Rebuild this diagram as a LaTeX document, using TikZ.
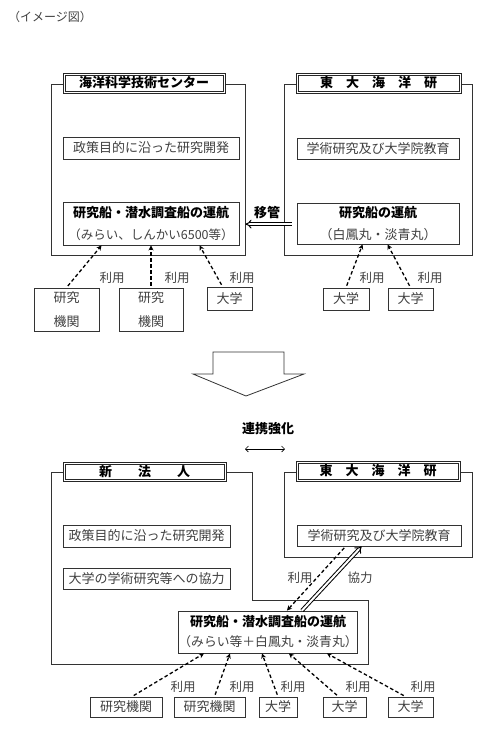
\documentclass[tikz,border=0pt]{standalone}
\usepackage{fontspec}
\setmainfont{Noto Sans CJK JP}
\usetikzlibrary{arrows.meta,calc}
\begin{document}
\begin{tikzpicture}[x=1pt,y=-1pt,
  every node/.style={font=\fontsize{13}{15}\selectfont},
  frame/.style={draw=black!80, line width=0.9pt, inner sep=0pt},
  box/.style={draw=black!80, line width=0.9pt, fill=white, inner sep=0pt, align=center, text=black!75},
  opbox/.style={box, font=\fontsize{13}{22}\selectfont},
  twoline/.style={box, font=\fontsize{13}{24}\selectfont},
  titlebox/.style={draw=black!85, line width=0.7pt, fill=white, inner sep=0pt, font=\fontsize{13}{15}\selectfont\bfseries, text=black},
  inner/.style={draw=black!85, line width=0.7pt},
  use/.style={draw=black, line width=1.3pt, dash pattern=on 3.5pt off 2.5pt, -{Stealth[length=5pt,width=5pt]}, shorten <=2pt},
  transfer/.style={draw=black, line width=1pt, double=white, double distance=2pt, -{Implies}},
  lbl/.style={text=black!75, inner sep=0pt, font=\fontsize{12.5}{15}\selectfont},
  blbl/.style={text=black, inner sep=0pt, font=\fontsize{13}{15}\selectfont\bfseries}
]
\useasboundingbox (0,0) rectangle (500,755);

\node[lbl, font=\fontsize{12}{14}\selectfont] (cap) at (50,17) {（イメージ図）};

% ---------- top section ----------
\node[frame, minimum width=194, minimum height=171] (f1) at (148,169.5) {};
\node[frame, minimum width=188, minimum height=171] (f2) at (378,169.5) {};
\node[titlebox, minimum width=162, minimum height=20] (t1) at (144,83) {海洋科学技術センター};
\draw[inner] ($(t1.south west)+(2.3,-2.3)$) rectangle ($(t1.north east)+(-2.3,2.3)$);
\node[titlebox, minimum width=165, minimum height=20] (t2) at (378.5,83) {東　大　海　洋　研};
\draw[inner] ($(t2.south west)+(2.3,-2.3)$) rectangle ($(t2.north east)+(-2.3,2.3)$);
\node[box, minimum width=176, minimum height=22] (p1) at (151,148) {政策目的に沿った研究開発};
\node[opbox, minimum width=176, minimum height=43] (op1) at (151,223.5) {{\bfseries\color{black}研究船・潜水調査船の運航}\\{\fontsize{12.5}{22}\selectfont（みらい、しんかい6500等）}};
\node[box, minimum width=162, minimum height=21] (a2) at (378,148.5) {学術研究及び大学院教育};
\node[opbox, minimum width=162, minimum height=41] (op2) at (378,223.5) {{\bfseries\color{black}研究船の運航}\\（白鳳丸・淡青丸）};

\node[twoline, minimum width=65, minimum height=43] (r1) at (66.5,309.5) {研究\\機関};
\node[twoline, minimum width=64, minimum height=43] (r2) at (151,309.5) {研究\\機関};
\node[box, minimum width=45, minimum height=23] (u1) at (229.5,298.5) {大学};
\node[box, minimum width=46, minimum height=22] (u2) at (346,299) {大学};
\node[box, minimum width=45, minimum height=22] (u3) at (410.5,299) {大学};

\draw[use] (r1.north) -- ($(op1.south west)+(39,0)$);
\draw[use] (r2.north) -- (r2.north |- op1.south);
\draw[use] ($(u1.north)+(-7,0)$) -- ($(op1.south west)+(137,0)$);
\draw[use] (u2.north) -- ($(op2.south west)+(66,0)$);
\draw[use] (u3.north) -- ($(op2.south west)+(91,0)$);

\node[lbl] (l1) at (112,278) {利用};
\node[lbl] (l2) at (177,278) {利用};
\node[lbl] (l3) at (242,278) {利用};
\node[lbl] (l4) at (372,278) {利用};
\node[lbl] (l5) at (430,278) {利用};

\draw[transfer] ($(op2.west)+(-5,0.6)$) -- ($(op2.west -| f1.east)+(0,0.6)$);
\node[blbl] (ik) at (267,213) {移管};

% ---------- big arrow ----------
\draw[draw=black!80, line width=0.8pt, fill=white] (213,352) -- (284,352) -- (284,374) -- (304,374) -- (246,396) -- (193,374) -- (213,374) -- cycle;

\node[blbl] (rk) at (268,429) {連携強化};
\coordinate (la) at (245,449);
\coordinate (lb) at (285,449);
\draw[line width=0.6pt, {Straight Barb[length=3pt,width=6pt]}-{Straight Barb[length=3pt,width=6pt]}] (la) -- (lb);

% ---------- bottom section ----------
\draw[draw=black!80, line width=0.9pt] (63,472) -- (51,472) -- (51,664) -- (368,664) -- (368,600) -- (252,600) -- (252,472) -- (226,472);
\node[frame, minimum width=188, minimum height=85] (f4) at (378,514.5) {};
\node[titlebox, minimum width=163, minimum height=19] (t3) at (144.5,471.5) {新　　法　　人};
\draw[inner] ($(t3.south west)+(2.3,-2.3)$) rectangle ($(t3.north east)+(-2.3,2.3)$);
\node[titlebox, minimum width=164, minimum height=20] (t4) at (378,471) {東　大　海　洋　研};
\draw[inner] ($(t4.south west)+(2.3,-2.3)$) rectangle ($(t4.north east)+(-2.3,2.3)$);
\node[box, minimum width=167, minimum height=22] (p3) at (146.5,536) {政策目的に沿った研究開発};
\node[box, minimum width=167, minimum height=21] (c3) at (146.5,578.5) {大学の学術研究等への協力};
\node[box, minimum width=164, minimum height=21] (a4) at (379,535.5) {学術研究及び大学院教育};
\node[opbox, font=\fontsize{13}{20}\selectfont, minimum width=174, minimum height=42] (op3) at (268,632) {{\bfseries\color{black}研究船・潜水調査船の運航}\\{\fontsize{12.8}{20}\selectfont（みらい等＋白鳳丸・淡青丸）}};

\draw[use] ($(a4.south west)+(49,0)$) -- ($(op3.north west)+(109,0)$);
\draw[transfer] ($(op3.north west)+(124,0)$) -- ($(a4.south west)+(65,0)$);
\node[lbl] (m1) at (300,578) {利用};
\node[lbl] (m2) at (360,578) {協力};

\node[box, minimum width=72, minimum height=20] (b1) at (126,707) {研究機関};
\node[box, minimum width=71, minimum height=20] (b2) at (209.5,707) {研究機関};
\node[box, minimum width=38, minimum height=20] (b3) at (278,707) {大学};
\node[box, minimum width=43, minimum height=20] (b4) at (344.5,707) {大学};
\node[box, minimum width=45, minimum height=20] (b5) at (410.5,707) {大学};

\draw[use] ($(b1.north)+(6,0)$) -- ($(op3.south west)+(26,0)$);
\draw[use] ($(b2.north)+(5,0)$) -- ($(op3.south west)+(52,0)$);
\draw[use] (b3.north) -- ($(op3.south west)+(84,0)$);
\draw[use] ($(b4.north)+(-6,0)$) -- ($(op3.south west)+(111,0)$);
\draw[use] ($(b5.north)+(-5,0)$) -- ($(op3.south west)+(149,0)$);

\node[lbl] (n1) at (183,687) {利用};
\node[lbl] (n2) at (242,687) {利用};
\node[lbl] (n3) at (293,687) {利用};
\node[lbl] (n4) at (358,687) {利用};
\node[lbl] (n5) at (423,687) {利用};
\end{tikzpicture}
\end{document}
